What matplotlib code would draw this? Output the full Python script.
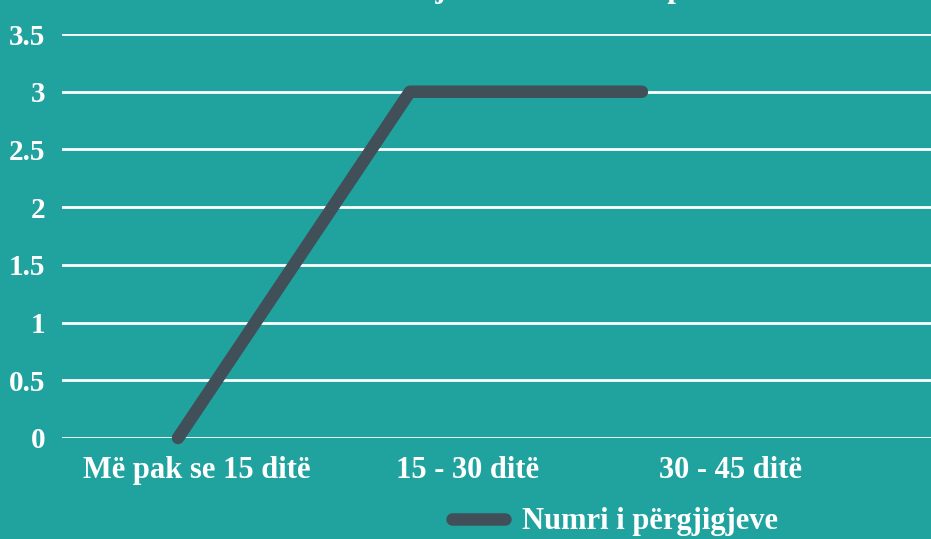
import numpy as np
import matplotlib.pyplot as plt

categories = ["Më pak se 15 ditë", "15 - 30 ditë", "30 - 45 ditë"]
values = [0, 3, 3]
series_name = "Numri i përgjigjeve"
title = "Koha e trajtimit të kërkesës për ankesë"

bg = "#20a39e"
line_col = "#414f58"
font = ["Liberation Serif", "DejaVu Serif"]

plt.rcParams['font.family'] = font
plt.rcParams['font.weight'] = 'bold'

fig = plt.figure(figsize=(9.31, 5.39), dpi=100, facecolor=bg)
ax = fig.add_axes([62/931, 101/539, 869/931, 404/539], facecolor=bg)

x = np.arange(len(categories))
ax.plot(x, values, color=line_col, linewidth=9, solid_capstyle='round',
        solid_joinstyle='round', label=series_name, zorder=3, clip_on=False)

ax.set_xlim(-0.5, 3.246)
ax.set_ylim(0, 3.5)
ax.set_yticks(np.arange(0, 3.51, 0.5))
ax.set_yticklabels(["0", "0.5", "1", "1.5", "2", "2.5", "3", "3.5"])
ax.grid(axis='y', color='white', linewidth=2)
ax.set_axisbelow(True)

# category labels sit a bit right of the data points in the original
ax.set_xticks(x + np.array([0.08, 0.25, 0.38]))
ax.set_xticklabels(categories)
ax.tick_params(axis='both', length=0, colors='white')
ax.tick_params(axis='y', pad=12, labelsize=21)
ax.tick_params(axis='x', pad=13, labelsize=22)
for s in ax.spines.values():
    s.set_visible(False)

# title is mostly cut off at the top in the original
fig.text(552/931, (539+3)/539, title, ha='center', va='baseline',
         color='white', fontsize=22, fontweight='bold')

leg = ax.legend(loc='center left', bbox_to_anchor=(452/931, 17/539),
                bbox_transform=fig.transFigure, frameon=False,
                fontsize=22, handlelength=1.75, handletextpad=0.55,
                borderaxespad=0, borderpad=0)
for t in leg.get_texts():
    t.set_color('white')

fig.savefig("out.png", dpi=100, facecolor=bg)
